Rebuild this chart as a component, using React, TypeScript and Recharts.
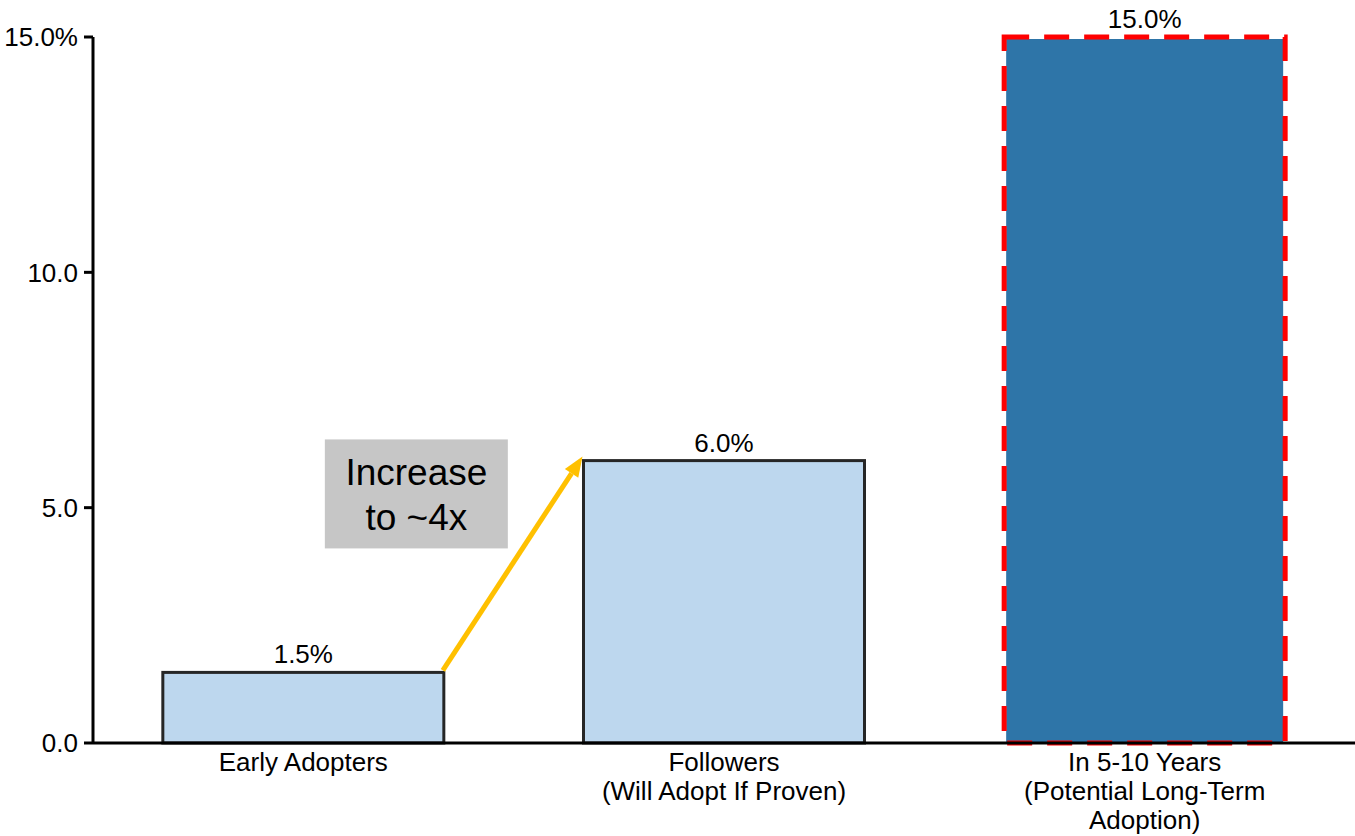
import React from 'react';
import { BarChart, Bar, XAxis, YAxis, Cell, LabelList } from 'recharts';

// Adoption share by group
const categories = ['Early Adopters', 'Followers\n(Will Adopt If Proven)', 'In 5-10 Years\n(Potential Long-Term\nAdoption)'];
const shares = [1.5, 6.0, 15.0];
const yTicks = [0, 5, 10, 15];
const boxLines = ['Increase', 'to ~4x'];

const data = categories.map((name, i) => ({ name, value: shares[i] }));

const FONT = '"Liberation Sans", Arial, sans-serif';
const GAP = 0.166;

const XTick = (props: any) => {
  const { x, y, payload } = props;
  const lines = String(payload.value).split('\n');
  return (
    <g>
      {lines.map((l, i) => (
        <text key={i} x={x} y={y + 28 + i * 29} textAnchor="middle" fontSize={26} fontFamily={FONT} fill="#000">
          {l}
        </text>
      ))}
    </g>
  );
};

const BarShape = (props: any) => {
  const { x, y, width, height, index } = props;
  if (index === 2) {
    return (
      <g>
        <rect x={x + 2} y={y + 2} width={width - 4} height={height - 2} fill="#2E75A8" />
        <rect x={x} y={y} width={width} height={height} fill="none" stroke="#FF0000" strokeWidth={5} strokeDasharray="25 15" />
      </g>
    );
  }
  const rect = <rect x={x} y={y} width={width} height={height} fill="#BDD7EE" stroke="#262626" strokeWidth={3} />;
  if (index !== 1) return rect;

  // annotation: arrow from previous bar top to this bar, plus grey note box
  const band = width / (1 - 2 * GAP);
  const prevRight = x - 2 * GAP * band;
  const base = y + height;
  const pxPerUnit = height / shares[1];
  const y0 = base - shares[0] * pxPerUnit;
  const sx = prevRight - 1;
  const sy = y0 - 2;
  const tx = x - 1;
  const ty = y - 4;
  const dx = tx - sx;
  const dy = ty - sy;
  const len = Math.sqrt(dx * dx + dy * dy);
  const ux = dx / len;
  const uy = dy / len;
  const head = 20;
  const hw = 8;
  const bx = tx - ux * head;
  const by = ty - uy * head;
  const boxLeft = prevRight - 119;
  const boxTop = base - 6.45 * pxPerUnit;
  return (
    <g>
      {rect}
      <line x1={sx} y1={sy} x2={bx} y2={by} stroke="#FFC000" strokeWidth={5} />
      <polygon
        points={`${tx},${ty} ${bx - uy * hw},${by + ux * hw} ${bx + uy * hw},${by - ux * hw}`}
        fill="#FFC000"
      />
      <rect x={boxLeft} y={boxTop} width={183} height={109} fill="#C6C6C6" />
      {boxLines.map((l, i) => (
        <text key={i} x={boxLeft + 91.5} y={boxTop + 46 + i * 45} textAnchor="middle" fontSize={37} fontFamily={FONT} fill="#000">
          {l}
        </text>
      ))}
    </g>
  );
};

const App: React.FC = () => {
  return (
    <div style={{ position: 'absolute', left: 0, top: 0, background: '#fff' }}>
      <BarChart
        width={1355}
        height={836}
        data={data}
        margin={{ top: 37, right: 0, left: 0, bottom: 0 }}
        barCategoryGap={`${GAP * 100}%`}
      >
        <XAxis
          dataKey="name"
          height={93}
          tickLine={false}
          tickSize={0}
          tickMargin={0}
          axisLine={{ stroke: '#000', strokeWidth: 3 }}
          tick={<XTick />}
          interval={0}
        />
        <YAxis
          width={93}
          domain={[0, 15]}
          ticks={yTicks}
          tickSize={9}
          tickMargin={6}
          axisLine={{ stroke: '#000', strokeWidth: 3 }}
          tickLine={{ stroke: '#000', strokeWidth: 3 }}
          tick={{ fill: '#000', fontSize: 26, fontFamily: FONT }}
          tickFormatter={(v: number) => (v === 15 ? '15.0%' : v.toFixed(1))}
        />
        <Bar dataKey="value" isAnimationActive={false} shape={<BarShape />}>
          {data.map((d, i) => (
            <Cell key={i} fill={i === 2 ? '#2E75A8' : '#BDD7EE'} />
          ))}
          <LabelList
            dataKey="value"
            position="top"
            offset={9}
            formatter={(v: any) => `${Number(v).toFixed(1)}%`}
            style={{ fill: '#000', fontSize: 26, fontFamily: FONT }}
          />
        </Bar>
      </BarChart>
    </div>
  );
};

export default App;
